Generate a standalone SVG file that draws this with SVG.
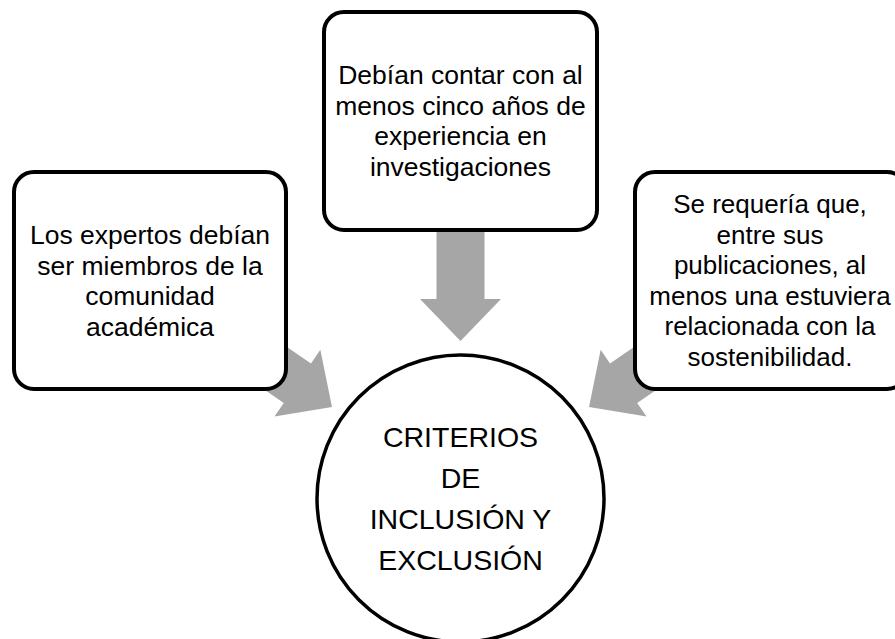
<svg xmlns="http://www.w3.org/2000/svg" width="895" height="639" viewBox="0 0 895 639">
  <style>
    .box { fill: #ffffff; stroke: #000000; stroke-width: 4; }
    .circ { fill: #ffffff; stroke: #000000; stroke-width: 3.5; }
    .arrow { fill: #a6a6a6; stroke: none; }
    .t { font-family: "Liberation Sans", Arial, sans-serif; font-size: 26.5px; fill: #000000; text-anchor: middle; }
    .tr { font-size: 26px; }
    .tc { font-family: "Liberation Sans", Arial, sans-serif; font-size: 28.5px; fill: #000000; text-anchor: middle; }
  </style>
  <defs>
    <path id="arr" d="M -24 -109 L 24 -109 L 24 -42 L 40.5 -42 L 0 0 L -40.5 -42 L -24 -42 Z"/>
  </defs>
  <rect width="895" height="639" fill="#ffffff"/>
  <g id="connectors">
    <use href="#arr" class="arrow" transform="translate(460.5,341)"/>
    <use href="#arr" class="arrow" transform="translate(332,407) rotate(-55.5)"/>
    <use href="#arr" class="arrow" transform="translate(589,407) rotate(55.5)"/>
  </g>
  <g id="node-top">
    <rect class="box" x="324" y="12" width="273" height="218" rx="20" ry="20"/>
    <text class="t" x="460.5" y="84">Debían contar con al</text>
    <text class="t" x="460.5" y="114.5">menos cinco años de</text>
    <text class="t" x="460.5" y="145">experiencia en</text>
    <text class="t" x="460.5" y="175.5">investigaciones</text>
  </g>
  <g id="node-left">
    <rect class="box" x="14" y="172" width="272" height="217" rx="20" ry="20"/>
    <text class="t" x="150" y="244">Los expertos debían</text>
    <text class="t" x="150" y="274.5">ser miembros de la</text>
    <text class="t" x="150" y="305">comunidad</text>
    <text class="t" x="150" y="335.5">académica</text>
  </g>
  <g id="node-right">
    <rect class="box" x="635" y="172" width="272" height="217" rx="20" ry="20"/>
    <text class="t tr" x="770" y="213">Se requería que,</text>
    <text class="t tr" x="770" y="243.5">entre sus</text>
    <text class="t tr" x="770" y="274">publicaciones, al</text>
    <text class="t tr" x="770" y="304.5">menos una estuviera</text>
    <text class="t tr" x="770" y="335">relacionada con la</text>
    <text class="t tr" x="770" y="365.5">sostenibilidad.</text>
  </g>
  <g id="node-center">
    <circle class="circ" cx="460.5" cy="498.5" r="143.5"/>
    <text class="tc" x="460.5" y="447">CRITERIOS</text>
    <text class="tc" x="460.5" y="488">DE</text>
    <text class="tc" x="460.5" y="529">INCLUSIÓN Y</text>
    <text class="tc" x="460.5" y="570">EXCLUSIÓN</text>
  </g>
</svg>
